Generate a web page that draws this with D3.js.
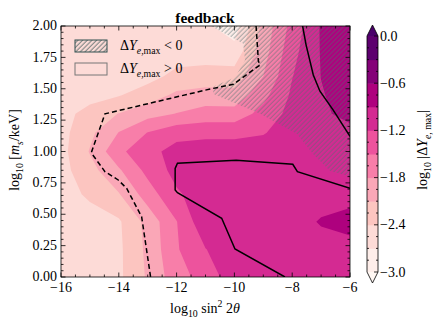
<!DOCTYPE html>
<html>
<head>
<meta charset="utf-8">
<script src="https://cdn.jsdelivr.net/npm/d3@7"></script>
<style>
  body { margin: 0; background: #fff; }
  svg, svg text { font-family: "Liberation Serif", "DejaVu Serif", "Times New Roman", serif; }
</style>
</head>
<body>
<div id="chart"></div>
<script>
// grid the field was sampled on
const xGrid = [-16, -15, -14, -13, -12, -11, -10, -9, -8, -7, -6];
const yGrid = [0, 0.22, 0.44, 0.66, 0.85, 1.0, 1.15, 1.3, 1.45, 1.6, 1.8, 2.0];

// log10 |dY_e,max|, one row per yGrid value (bottom to top)
const zRows = [
  [-2.55, -2.55, -2.46, -2.06, -1.62, -1.38, -1.02, -1.00, -1.00, -1.00, -1.02],
  [-2.55, -2.55, -2.46, -2.03, -1.53, -1.21, -1.00, -0.98, -0.98, -1.00, -1.05],
  [-2.55, -2.55, -2.44, -2.00, -1.51, -0.97, -1.00, -1.00, -1.00, -0.88, -0.75],
  [-2.55, -2.34, -2.12, -1.65, -1.24, -1.05, -1.00, -1.00, -1.00, -1.00, -1.05],
  [-2.50, -2.21, -1.84, -1.41, -1.10, -1.00, -1.00, -1.00, -1.00, -1.00, -1.00],
  [-2.50, -2.08, -1.57, -1.29, -1.10, -1.05, -1.05, -1.05, -1.00, -1.00, -0.95],
  [-2.50, -2.17, -1.79, -1.49, -1.30, -1.28, -1.28, -1.22, -1.05, -0.95, -0.95],
  [-2.50, -2.30, -2.09, -1.91, -1.79, -1.68, -1.68, -1.39, -1.10, -0.93, -0.85],
  [-2.55, -2.50, -2.42, -2.26, -2.04, -1.97, -1.99, -1.59, -1.15, -0.92, -0.78],
  [-2.55, -2.55, -2.55, -2.50, -2.32, -2.28, -2.27, -1.80, -1.21, -0.895, -0.75],
  [-2.55, -2.55, -2.55, -2.55, -2.55, -2.55, -2.60, -1.93, -1.30, -0.88, -0.72],
  [-2.55, -2.55, -2.55, -2.55, -2.55, -2.65, -2.85, -2.00, -1.40, -0.87, -0.70]
];

const levels = [-3.0, -2.7, -2.4, -2.1, -1.8, -1.5, -1.2, -0.9, -0.6, -0.3, 0.0];
const cbTicks = [-3.0, -2.4, -1.8, -1.2, -0.6, 0.0];
const xTicks = [-16, -14, -12, -10, -8, -6];
const yTicks = [0, 0.25, 0.5, 0.75, 1.0, 1.25, 1.5, 1.75, 2.0];

// overlay curves, [log10 sin^2 2theta, log10 m_s]
const dashedLine = [[-9.25, 2.0], [-9.17, 1.72], [-9.11, 1.69], [-10.04, 1.535], [-10.84, 1.498],
  [-14.48, 1.30], [-14.94, 0.998], [-14.94, 0.985], [-14.48, 0.84], [-14.02, 0.773],
  [-13.73, 0.707], [-13.21, 0.48], [-12.90, 0.0]];
const solidUpper = [[-7.64, 2.0], [-7.52, 1.85], [-7.27, 1.61], [-7.04, 1.48], [-6.58, 1.33], [-6.0, 1.12]];
const solidLower = [[-6.0, 0.707], [-7.82, 0.839], [-7.98, 0.898], [-9.94, 0.93], [-11.97, 0.906],
  [-12.05, 0.866], [-12.05, 0.693], [-11.97, 0.672], [-10.44, 0.468], [-9.98, 0.223], [-8.25, 0.0]];
// region where dY_e,max < 0
const negRegion = [[-10.81, 2.0], [-9.70, 1.86], [-9.63, 1.73], [-9.98, 1.59], [-10.71, 1.52],
  [-10.74, 1.46], [-9.11, 1.30], [-7.83, 1.14], [-7.28, 0.98], [-6.69, 0.845], [-6.0, 0.80], [-6.0, 2.0]];

const W = 440, H = 320;
const serif = '"Liberation Serif", "DejaVu Serif", "Times New Roman", serif';
const x = d3.scaleLinear().domain([-16, -6]).range([61, 350]);
const y = d3.scaleLinear().domain([0, 2]).range([277, 26]);

const rdpu = d3.piecewise(d3.interpolateRgb, ["#fff7f3", "#fde0dd", "#fcc5c0", "#fa9fb5",
  "#f768a1", "#dd3497", "#ae017e", "#7a0177", "#49006a"]);
const nBands = levels.length - 1;
const bandColor = i => rdpu((i + 0.5) / nBands);

const svg = d3.select('#chart').append('svg').attr('width', W).attr('height', H)
  .attr('font-family', serif);
const defs = svg.append('defs');
defs.append('clipPath').attr('id', 'plotclip').append('rect')
  .attr('x', x(-16)).attr('y', y(2)).attr('width', x(-6) - x(-16)).attr('height', y(0) - y(2));

function hatchPattern(id, colour, opacity, w) {
  const p = defs.append('pattern').attr('id', id).attr('patternUnits', 'userSpaceOnUse')
    .attr('width', 3.3).attr('height', 3.3).attr('patternTransform', 'rotate(45)');
  p.append('line').attr('x1', 1).attr('y1', -1).attr('x2', 1).attr('y2', 4.3)
    .attr('stroke', colour).attr('stroke-opacity', opacity).attr('stroke-width', w);
}
hatchPattern('hatchPlot', '#50706f', 0.75, 0.7);
hatchPattern('hatchLegend', '#2f4f4f', 0.85, 0.8);

// filled contours
const nx = xGrid.length, ny = yGrid.length;
const gx = d3.scaleLinear().domain(d3.range(nx)).range(xGrid);
const gy = d3.scaleLinear().domain(d3.range(ny)).range(yGrid);
const contours = d3.contours().size([nx, ny]).thresholds(levels.slice(0, -1))(zRows.flat());
const proj = d3.geoTransform({
  point(px, py) { this.stream.point(x(gx(px - 0.5)), y(gy(py - 0.5))); }
});
const path = d3.geoPath(proj);

const gPlot = svg.append('g').attr('clip-path', 'url(#plotclip)');
gPlot.append('rect').attr('x', x(-16)).attr('y', y(2))
  .attr('width', x(-6) - x(-16)).attr('height', y(0) - y(2)).attr('fill', rdpu(0));
gPlot.selectAll('path.band').data(contours).join('path')
  .attr('class', 'band').attr('d', path).attr('fill', (d, i) => bandColor(i));

const line = d3.line().x(d => x(d[0])).y(d => y(d[1]));
gPlot.append('path').datum(negRegion)
  .attr('d', d3.line().x(d => x(d[0])).y(d => y(d[1])).curve(d3.curveLinearClosed))
  .attr('fill', 'url(#hatchPlot)');
gPlot.append('path').datum(dashedLine).attr('d', line).attr('fill', 'none')
  .attr('stroke', '#000').attr('stroke-width', 1.5).attr('stroke-dasharray', '5,3');
[solidUpper, solidLower].forEach(ln => {
  gPlot.append('path').datum(ln).attr('d', line).attr('fill', 'none')
    .attr('stroke', '#000').attr('stroke-width', 1.5);
});

// frame and inward ticks
const ax = svg.append('g').attr('stroke', '#000').attr('stroke-width', 0.8);
ax.append('rect').attr('x', x(-16)).attr('y', y(2))
  .attr('width', x(-6) - x(-16)).attr('height', y(0) - y(2)).attr('fill', 'none');
x.ticks(20).forEach(v => {
  const len = xTicks.some(t => Math.abs(t - v) < 1e-6) ? 4.5 : 2.5;
  ax.append('line').attr('x1', x(v)).attr('x2', x(v)).attr('y1', y(0)).attr('y2', y(0) - len);
  ax.append('line').attr('x1', x(v)).attr('x2', x(v)).attr('y1', y(2)).attr('y2', y(2) + len);
});
y.ticks(40).forEach(v => {
  const len = yTicks.some(t => Math.abs(t - v) < 1e-6) ? 4.5 : 2.5;
  ax.append('line').attr('y1', y(v)).attr('y2', y(v)).attr('x1', x(-16)).attr('x2', x(-16) + len);
  ax.append('line').attr('y1', y(v)).attr('y2', y(v)).attr('x1', x(-6)).attr('x2', x(-6) - len);
});

const fs = 14;
svg.append('g').selectAll('text').data(xTicks).join('text')
  .attr('x', d => x(d)).attr('y', 292).attr('text-anchor', 'middle').attr('font-size', fs)
  .text(d3.format('d'));
svg.append('g').selectAll('text').data(yTicks).join('text')
  .attr('x', 57).attr('y', d => y(d)).attr('dy', '0.3em').attr('text-anchor', 'end').attr('font-size', fs)
  .text(d3.format('.2f'));

// rich text helper: modes i = italic, b = subscript, p = superscript
function rich(el, parts, size) {
  let shift = 0;
  parts.forEach(([txt, m]) => {
    const target = m.includes('b') ? size * 0.28 : m.includes('p') ? -size * 0.4 : 0;
    const ts = el.append('tspan').attr('dy', target - shift).text(txt);
    shift = target;
    if (target) ts.attr('font-size', size * 0.7);
    if (m.includes('i')) ts.attr('font-style', 'italic');
  });
}

svg.append('text').attr('x', 205).attr('y', 22.5).attr('text-anchor', 'middle')
  .attr('font-size', 15.5).attr('font-weight', 'bold').text('feedback');

rich(svg.append('text').attr('x', 205).attr('y', 313).attr('text-anchor', 'middle').attr('font-size', fs),
  [['log', ''], ['10', 'b'], [' sin', ''], ['2', 'p'], [' 2', ''], ['θ', 'i']], fs);
rich(svg.append('text').attr('transform', 'translate(19,150) rotate(-90)').attr('text-anchor', 'middle').attr('font-size', fs),
  [['log', ''], ['10', 'b'], [' [', ''], ['m', 'i'], ['s', 'bi'], ['/keV]', '']], fs);

// legend
const lg = svg.append('g');
lg.append('rect').attr('x', 75).attr('y', 40).attr('width', 32).attr('height', 12)
  .attr('fill', 'url(#hatchLegend)').attr('stroke', '#2f4f4f').attr('stroke-width', 1);
lg.append('rect').attr('x', 75).attr('y', 63).attr('width', 32).attr('height', 12)
  .attr('fill', bandColor(1)).attr('stroke', '#777').attr('stroke-width', 1);
rich(lg.append('text').attr('x', 120).attr('y', 50).attr('font-size', fs),
  [['Δ', ''], ['Y', 'i'], ['e', 'bi'], [',max', 'b'], [' < 0', '']], fs);
rich(lg.append('text').attr('x', 120).attr('y', 73).attr('font-size', fs),
  [['Δ', ''], ['Y', 'i'], ['e', 'bi'], [',max', 'b'], [' > 0', '']], fs);

// colorbar
const cbX0 = 367, cbX1 = 378, cbMid = (cbX0 + cbX1) / 2;
const cb = d3.scaleLinear().domain([-3, 0]).range([272, 36]);
const gcb = svg.append('g');
gcb.selectAll('rect').data(d3.range(nBands)).join('rect')
  .attr('x', cbX0).attr('width', cbX1 - cbX0)
  .attr('y', i => cb(levels[i + 1])).attr('height', i => cb(levels[i]) - cb(levels[i + 1]) + 0.5)
  .attr('fill', i => bandColor(i));
gcb.append('path').attr('d', `M${cbX0},${cb(0)}L${cbMid},25L${cbX1},${cb(0)}Z`).attr('fill', rdpu(1));
gcb.append('path').attr('d', `M${cbX0},${cb(-3)}L${cbMid},283L${cbX1},${cb(-3)}Z`).attr('fill', rdpu(0));
gcb.append('path')
  .attr('d', `M${cbX0},${cb(-3)}L${cbMid},283L${cbX1},${cb(-3)}L${cbX1},${cb(0)}L${cbMid},25L${cbX0},${cb(0)}Z`)
  .attr('fill', 'none').attr('stroke', '#000').attr('stroke-width', 0.8);
d3.range(0, 21).map(k => -3 + k * 0.15).forEach(v => {
  const major = cbTicks.some(t => Math.abs(t - v) < 1e-6);
  const len = major ? 4 : 2;
  gcb.append('line').attr('x1', cbX1 - len).attr('x2', cbX1).attr('y1', cb(v)).attr('y2', cb(v))
    .attr('stroke', '#000').attr('stroke-width', 0.8);
  if (!major) gcb.append('line').attr('x1', cbX0).attr('x2', cbX0 + len).attr('y1', cb(v)).attr('y2', cb(v))
    .attr('stroke', '#000').attr('stroke-width', 0.8);
});
gcb.selectAll('text').data(cbTicks).join('text')
  .attr('x', 380).attr('y', d => cb(d)).attr('dy', '0.33em').attr('font-size', fs)
  .text(d3.format('.1f'));
rich(svg.append('text').attr('transform', 'translate(427,150) rotate(-90)').attr('text-anchor', 'middle').attr('font-size', fs),
  [['log', ''], ['10', 'b'], [' |Δ', ''], ['Y', 'i'], ['e', 'bi'], [', max', 'b'], ['|', '']], fs);
</script>
</body>
</html>
